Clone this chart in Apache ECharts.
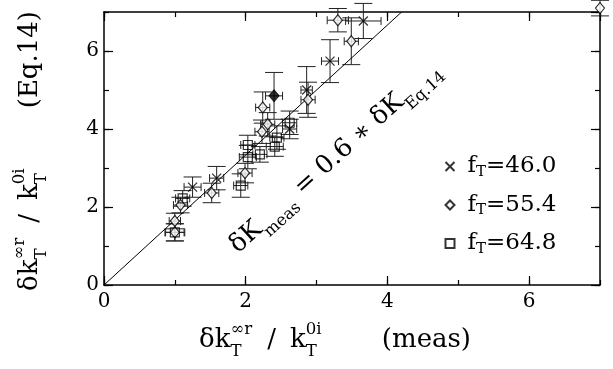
<!DOCTYPE html>
<html><head><meta charset="utf-8">
<script src="https://cdn.jsdelivr.net/npm/echarts@6/dist/echarts.min.js"></script>
<style>html,body{margin:0;padding:0;background:#fff}#c{width:613px;height:369px}</style>
</head><body><div id="c"></div>
<script>
// ---- data ----
const legendVals = ['46.0', '55.4', '64.8'];
const tickLabels = [0, 2, 4, 6];

const crossX    = [1.25, 1.59, 2.62, 2.86, 3.19, 3.66];
const crossY    = [2.51, 2.74, 4.00, 5.00, 5.74, 6.77];
const crossXErr = [0.12, 0.10, 0.10, 0.08, 0.12, 0.25];
const crossYErr = [0.26, 0.30, 0.25, 0.60, 0.55, 0.45];

const diamX    = [1.00, 1.00, 1.08, 1.52, 1.99, 2.23, 2.24, 2.31, 2.88, 3.30, 3.49, 7.00];
const diamY    = [1.64, 1.35, 2.05, 2.36, 2.87, 3.93, 4.55, 4.12, 4.75, 6.79, 6.25, 7.10];
const diamXErr = [0.08, 0.13, 0.10, 0.10, 0.10, 0.10, 0.10, 0.10, 0.10, 0.15, 0.10, 0.00];
const diamYErr = [0.20, 0.22, 0.20, 0.25, 0.25, 0.30, 0.40, 0.30, 0.45, 0.30, 0.60, 0.20];

const filledX = [2.40], filledY = [4.85], filledXErr = [0.12], filledYErr = [0.60];

const sqX    = [1.00, 1.11, 1.93, 2.03, 2.03, 2.41, 2.44, 2.62, 2.20];
const sqY    = [1.35, 2.22, 2.55, 3.28, 3.59, 3.55, 3.78, 4.16, 3.35];
const sqXErr = [0.14, 0.10, 0.10, 0.12, 0.10, 0.12, 0.10, 0.10, 0.10];
const sqYErr = [0.22, 0.20, 0.30, 0.30, 0.25, 0.25, 0.30, 0.30, 0.20];

// fit line: meas = 0.6 * Eq14
const lineX = [0, 4.2];
const lineY = [0, 7.0];

// ---- helpers ----
const SERIF = 'DejaVu Serif';
const zip2 = (a, b) => a.map((v, i) => [v, b[i]]);
const zip4 = (a, b, c, d) => a.map((v, i) => [v, b[i], c[i], d[i]]);

function errRender(params, api) {
  const x = api.value(0), y = api.value(1), xe = api.value(2), ye = api.value(3);
  const c = api.coord([x, y]);
  const top = api.coord([x, y + ye]), bot = api.coord([x, y - ye]);
  const l = api.coord([x - xe, y]), r = api.coord([x + xe, y]);
  const cw = 9, hw = 4;
  const st = { stroke: '#222', lineWidth: 1, fill: null };
  const ln = (x1, y1, x2, y2) => ({ type: 'line', shape: { x1, y1, x2, y2 }, style: st });
  const ch = [];
  if (ye > 0) {
    ch.push(ln(c[0], top[1], c[0], bot[1]), ln(c[0] - cw, top[1], c[0] + cw, top[1]), ln(c[0] - cw, bot[1], c[0] + cw, bot[1]));
  }
  if (xe > 0) {
    ch.push(ln(l[0], c[1], r[0], c[1]), ln(l[0], c[1] - hw, l[0], c[1] + hw), ln(r[0], c[1] - hw, r[0], c[1] + hw));
  }
  return { type: 'group', children: ch };
}
function errSeries(data) {
  return { type: 'custom', renderItem: errRender, data, encode: { x: 0, y: 1 }, clip: false, silent: true, z: 1 };
}

const measCtx = document.createElement('canvas').getContext('2d');
function tw(t, s) { measCtx.font = s + 'px "' + SERIF + '"'; return measCtx.measureText(t).width; }
// parts: {m}, {sub,sup}, {gap}, {stretch}
function layoutText(parts, B, targetW) {
  function lay(stretchW) {
    let x = 0; const out = [];
    for (const p of parts) {
      if (p.m !== undefined) { out.push({ t: p.m, x, y: 0, s: B }); x += tw(p.m, B); }
      else if (p.gap !== undefined) { x += p.gap; }
      else if (p.stretch) { x += stretchW; }
      else {
        const s = B * 0.64; let mw = 0;
        if (p.sub) { out.push({ t: p.sub, x, y: B * 0.34, s }); mw = Math.max(mw, tw(p.sub, s)); }
        if (p.sup) { out.push({ t: p.sup, x, y: -B * 0.50, s }); mw = Math.max(mw, tw(p.sup, s)); }
        x += mw + 1;
      }
    }
    return { items: out, width: x };
  }
  let L = lay(0);
  if (targetW) L = lay(Math.max(0, targetW - L.width));
  return L;
}
// (x, y) is the left end (or centre) of the alphabetic baseline
function textGroup(parts, B, targetW, x, y, rotation, center) {
  const L = layoutText(parts, B, targetW);
  const off = center ? -L.width / 2 : 0;
  return {
    type: 'group', x, y, rotation, silent: true,
    children: L.items.map(it => ({
      type: 'text', x: it.x + off, y: it.y - it.s * 0.30,
      style: { text: it.t, font: it.s.toFixed(1) + 'px "' + SERIF + '"', fill: '#000', verticalAlign: 'middle', align: 'left' }
    }))
  };
}

// ---- chart ----
const chart = echarts.init(document.getElementById('c'), null, { renderer: 'canvas' });
const labelStyle = { color: '#000', fontFamily: SERIF, fontSize: 20 };
function mkAxis(pos, interval, tickLen, withLabel, withLine) {
  return {
    type: 'value', min: 0, max: 7, interval, position: pos,
    axisLine: { show: withLine, onZero: false, lineStyle: { color: '#000', width: 1.5 } },
    axisTick: { show: true, inside: true, length: tickLen, lineStyle: { color: '#000', width: 1.2 } },
    axisLabel: withLabel ? Object.assign({ margin: pos === 'left' ? 5 : 7, showMaxLabel: false, formatter: v => tickLabels.includes(v) ? String(v) : '' }, labelStyle) : { show: false },
    splitLine: { show: false }
  };
}

const names = legendVals.map(v => 'fT=' + v);
const crossPath = 'path://M0,0L10,10M10,0L0,10';

const option = {
  animation: false,
  backgroundColor: '#fff',
  grid: { left: 104, right: 13, top: 12, bottom: 84, containLabel: false },
  xAxis: [mkAxis('bottom', 2, 9, true, true), mkAxis('top', 2, 9, false, true), mkAxis('bottom', 1, 5, false, false), mkAxis('top', 1, 5, false, false)],
  yAxis: [mkAxis('left', 2, 9, true, true), mkAxis('right', 2, 9, false, true), mkAxis('left', 1, 5, false, false), mkAxis('right', 1, 5, false, false)],
  legend: {
    orient: 'vertical', left: 438, top: 150, itemGap: 14, itemWidth: 9, itemHeight: 9,
    data: names, selectedMode: false,
    formatter: n => '{f|f}{s|T}{n|=' + n.slice(3) + '}',
    textStyle: {
      color: '#000', fontFamily: SERIF, fontSize: 23,
      rich: {
        f: { fontFamily: SERIF, fontSize: 23, lineHeight: 26, color: '#000', padding: [0, 0, 0, 8] },
        s: { fontFamily: SERIF, fontSize: 15, lineHeight: 14, verticalAlign: 'bottom', color: '#000' },
        n: { fontFamily: SERIF, fontSize: 23, lineHeight: 26, color: '#000' }
      }
    }
  },
  series: [
    { type: 'line', data: zip2(lineX, lineY), showSymbol: false, symbol: 'none', lineStyle: { color: '#000', width: 1 }, z: 1, silent: true },
    errSeries(zip4(crossX, crossY, crossXErr, crossYErr)),
    errSeries(zip4(diamX, diamY, diamXErr, diamYErr)),
    errSeries(zip4(sqX, sqY, sqXErr, sqYErr)),
    errSeries(zip4(filledX, filledY, filledXErr, filledYErr)),
    { name: names[0], type: 'scatter', data: zip2(crossX, crossY), symbol: crossPath, symbolSize: 9, clip: false, z: 3,
      itemStyle: { color: 'none', borderColor: '#000', borderWidth: 1.3 } },
    { name: names[1], type: 'scatter', data: zip2(diamX, diamY), symbol: 'diamond', symbolSize: [9, 11], clip: false, z: 3,
      itemStyle: { color: '#fff', borderColor: '#000', borderWidth: 1.2 } },
    { name: names[2], type: 'scatter', data: zip2(sqX, sqY), symbol: 'rect', symbolSize: 9, clip: false, z: 3,
      itemStyle: { color: 'none', borderColor: '#000', borderWidth: 1.2 } },
    { name: 'filled', type: 'scatter', data: zip2(filledX, filledY), symbol: 'diamond', symbolSize: [10, 12], clip: false, z: 4,
      itemStyle: { color: '#000', borderColor: '#000', borderWidth: 1 } }
  ]
};
chart.setOption(option);

// titles and annotation
const xTitleParts = [{ m: 'δk' }, { sub: 'T', sup: '∞r' }, { gap: 14 }, { m: '/' }, { gap: 14 }, { m: 'k' }, { sub: 'T', sup: '0i' }, { stretch: true }, { m: '(meas)' }];
const yTitleParts = [{ m: 'δk' }, { sub: 'T', sup: '∞r' }, { gap: 14 }, { m: '/' }, { gap: 14 }, { m: 'k' }, { sub: 'T', sup: '0i' }, { stretch: true }, { m: '(Eq.14)' }];
const annParts = [{ m: 'δK' }, { sub: 'meas' }, { m: ' = 0.6 ∗ δK' }, { sub: 'Eq.14' }];

const annPos = chart.convertToPixel({ xAxisIndex: 0, yAxisIndex: 0 }, [1.90, 0.78]);
chart.setOption({
  graphic: [
    textGroup(xTitleParts, 26, 272, 335, 348, 0, true),
    textGroup(yTitleParts, 26, 280, 38, 151, Math.PI / 2, true),
    textGroup(annParts, 25.5, 0, annPos[0], annPos[1], 42 * Math.PI / 180, false)
  ]
});
</script>
</body></html>
